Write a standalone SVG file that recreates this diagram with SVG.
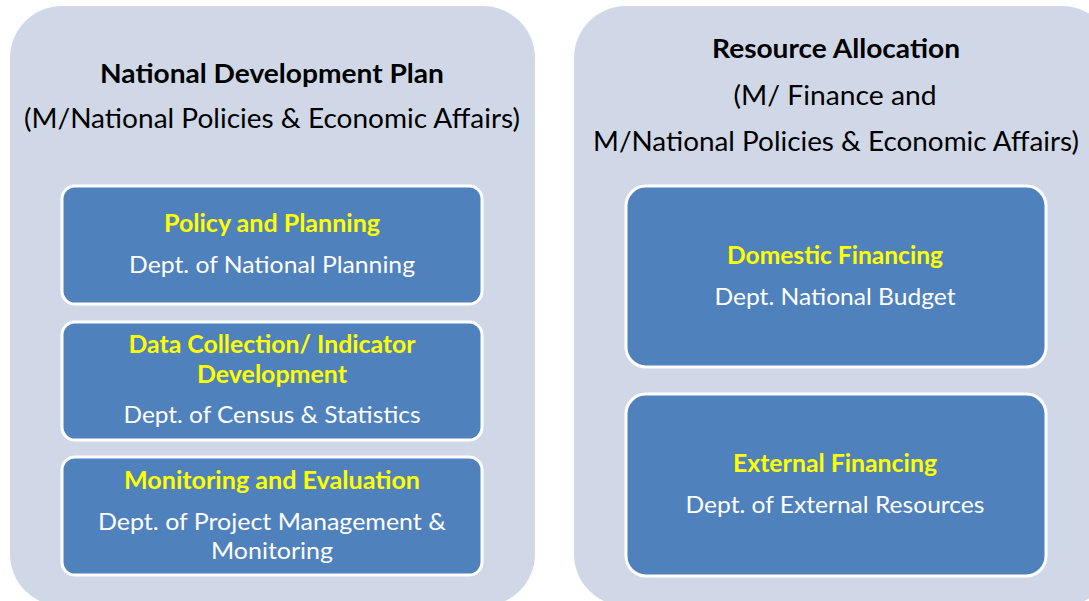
<svg xmlns="http://www.w3.org/2000/svg" width="1089" height="601" viewBox="0 0 1089 601">
<style>
.panel{fill:#D0D8E8;}
.box{fill:#4F81BD;stroke:#FFFFFF;stroke-width:3;}
text{font-family:Lato,"Open Sans","Liberation Sans",sans-serif;text-anchor:middle;}
.h{font-weight:bold;font-size:26px;fill:#000;}
.s{font-size:27px;fill:#000;}
.y{font-weight:bold;font-size:24px;fill:#FFFF00;}
.w{font-size:24px;fill:#FFFFFF;}
</style>
<rect width="1089" height="601" fill="#FFFFFF"/>
<g id="panel-left">
<rect class="panel" x="10" y="6" width="525" height="600" rx="52"/>
<text class="h" x="272" y="83" textLength="344" lengthAdjust="spacingAndGlyphs">National Development Plan</text>
<text class="s" x="272" y="128" textLength="496" lengthAdjust="spacingAndGlyphs">(M/National Policies &amp; Economic Affairs)</text>
</g>
<g id="panel-right">
<rect class="panel" x="574" y="6" width="540" height="600" rx="52"/>
<text class="h" x="836" y="58" textLength="248" lengthAdjust="spacingAndGlyphs">Resource Allocation</text>
<text class="s" x="835" y="105" textLength="203" lengthAdjust="spacingAndGlyphs">(M/ Finance and</text>
<text class="s" x="836" y="151" textLength="486" lengthAdjust="spacingAndGlyphs">M/National Policies &amp; Economic Affairs)</text>
</g>
<g id="policy-planning">
<rect class="box" x="62" y="186" width="420" height="118" rx="13"/>
<text class="y" x="272" y="232" textLength="216" lengthAdjust="spacingAndGlyphs">Policy and Planning</text>
<text class="w" x="272" y="273" textLength="286" lengthAdjust="spacingAndGlyphs">Dept. of National Planning</text>
</g>
<g id="data-collection">
<rect class="box" x="62" y="322" width="420" height="118" rx="13"/>
<text class="y" x="272" y="353" textLength="287" lengthAdjust="spacingAndGlyphs">Data Collection/ Indicator</text>
<text class="y" x="272" y="383" textLength="150" lengthAdjust="spacingAndGlyphs">Development</text>
<text class="w" x="272" y="423" textLength="297" lengthAdjust="spacingAndGlyphs">Dept. of Census &amp; Statistics</text>
</g>
<g id="monitoring-evaluation">
<rect class="box" x="62" y="457" width="420" height="118" rx="13"/>
<text class="y" x="272" y="489" textLength="296" lengthAdjust="spacingAndGlyphs">Monitoring and Evaluation</text>
<text class="w" x="272" y="530" textLength="348" lengthAdjust="spacingAndGlyphs">Dept. of Project Management &amp;</text>
<text class="w" x="272" y="559" textLength="122" lengthAdjust="spacingAndGlyphs">Monitoring</text>
</g>
<g id="domestic-financing">
<rect class="box" x="626" y="186" width="420" height="181" rx="20"/>
<text class="y" x="835" y="264" textLength="216" lengthAdjust="spacingAndGlyphs">Domestic Financing</text>
<text class="w" x="835" y="305" textLength="241" lengthAdjust="spacingAndGlyphs">Dept. National Budget</text>
</g>
<g id="external-financing">
<rect class="box" x="626" y="394" width="420" height="182" rx="20"/>
<text class="y" x="835" y="472" textLength="204" lengthAdjust="spacingAndGlyphs">External Financing</text>
<text class="w" x="835" y="513" textLength="299" lengthAdjust="spacingAndGlyphs">Dept. of External Resources</text>
</g>
<g id="connectors"></g>
</svg>
